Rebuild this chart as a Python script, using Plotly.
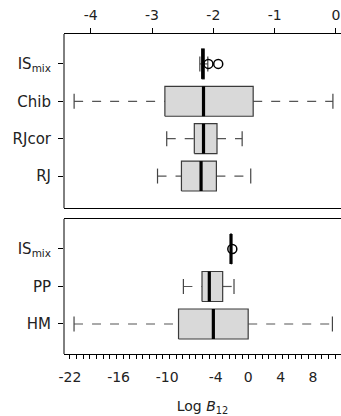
import plotly.graph_objects as go

# Upper panel: log Bayes factor estimates (scale -4 .. 0)
top_labels = ["IS<sub>mix</sub>", "Chib", "RJcor", "RJ"]
top_lower = [-2.22, -4.27, -2.76, -2.91]
top_q1 = [-2.19, -2.79, -2.31, -2.52]
top_median = [-2.17, -2.16, -2.16, -2.20]
top_q3 = [-2.15, -1.35, -1.94, -1.95]
top_upper = [-2.09, -0.05, -1.53, -1.39]
top_outliers = [[-2.08, -1.92], [], [], []]

# Lower panel: log Bayes factor estimates (scale -22 .. 8)
bot_labels = ["IS<sub>mix</sub>", "PP", "HM"]
bot_lower = [-2.15, -8.0, -21.5]
bot_q1 = [-2.14, -5.7, -8.6]
bot_median = [-2.12, -4.8, -4.3]
bot_q3 = [-2.10, -3.15, 0.0]
bot_upper = [-2.09, -1.75, 10.4]
bot_outliers = [[-1.96], [], []]

top_ticks = [-4, -3, -2, -1, 0]
bot_ticks = [-22, -16, -10, -4, 0, 4, 8]

FONT = "DejaVu Sans"
BOX_HALF = 0.4
CAP_HALF = 0.2

fig = go.Figure()


def add_boxes(labels, lower, q1, med, q3, upper, outliers, xa, ya):
    n = len(labels)
    pos = [n - 1 - i for i in range(n)]
    # whiskers (dashed) and caps
    wx, wy, cx, cy = [], [], [], []
    for p, lo, a, b, hi in zip(pos, lower, q1, q3, upper):
        wx += [lo, a, None, b, hi, None]
        wy += [p, p, None, p, p, None]
        cx += [lo, lo, None, hi, hi, None]
        cy += [p - CAP_HALF, p + CAP_HALF, None, p - CAP_HALF, p + CAP_HALF, None]
    fig.add_trace(go.Scatter(x=wx, y=wy, mode="lines", xaxis=xa, yaxis=ya,
                             line=dict(color="#555555", width=1.2, dash="9px,9px"),
                             hoverinfo="skip", showlegend=False))
    fig.add_trace(go.Scatter(x=cx, y=cy, mode="lines", xaxis=xa, yaxis=ya,
                             line=dict(color="#444444", width=1.2),
                             hoverinfo="skip", showlegend=False))
    # boxes
    for p, a, b in zip(pos, q1, q3):
        fig.add_trace(go.Scatter(
            x=[a, b, b, a, a],
            y=[p - BOX_HALF, p - BOX_HALF, p + BOX_HALF, p + BOX_HALF, p - BOX_HALF],
            mode="lines", fill="toself", fillcolor="#d9d9d9",
            line=dict(color="#3a3a3a", width=1.2), xaxis=xa, yaxis=ya,
            hoverinfo="skip", showlegend=False))
    # medians
    mx, my = [], []
    for p, m in zip(pos, med):
        mx += [m, m, None]
        my += [p - BOX_HALF, p + BOX_HALF, None]
    fig.add_trace(go.Scatter(x=mx, y=my, mode="lines", xaxis=xa, yaxis=ya,
                             line=dict(color="black", width=3.2),
                             hoverinfo="skip", showlegend=False))
    # outliers
    ox, oy = [], []
    for p, outs in zip(pos, outliers):
        ox += outs
        oy += [p] * len(outs)
    fig.add_trace(go.Scatter(x=ox, y=oy, mode="markers", xaxis=xa, yaxis=ya,
                             marker=dict(symbol="circle-open", size=9,
                                         color="black", line=dict(width=1.5)),
                             hoverinfo="skip", showlegend=False))
    return pos


top_pos = add_boxes(top_labels, top_lower, top_q1, top_median, top_q3,
                    top_upper, top_outliers, "x", "y")
bot_pos = add_boxes(bot_labels, bot_lower, bot_q1, bot_median, bot_q3,
                    bot_upper, bot_outliers, "x2", "y2")

tick_font = dict(family=FONT, size=14, color="#222222")
lab_font = dict(family=FONT, size=15, color="#222222")

# left frame edge of each panel (open on the right)
for xr, yr in (("x domain", "y domain"), ("x2 domain", "y2 domain")):
    fig.add_shape(type="line", xref=xr, yref=yr, x0=0, x1=0, y0=0, y1=1,
                  line=dict(color="black", width=1), layer="above")

fig.update_layout(
    width=341, height=416,
    margin=dict(l=64, r=0, t=34, b=62),
    plot_bgcolor="white", paper_bgcolor="white",
    xaxis=dict(domain=[0, 1], anchor="y", side="top", range=[-4.435, 0.082],
               tickvals=top_ticks, ticktext=[str(t) for t in top_ticks],
               ticks="outside", ticklen=5, tickcolor="black", tickwidth=1,
               showline=True, linecolor="black", linewidth=1, mirror=True,
               showgrid=False, zeroline=False, tickfont=tick_font,
               ticklabelstandoff=2),
    yaxis=dict(domain=[0.456, 1], anchor="x", range=[-0.857, 3.80],
               tickvals=top_pos, ticktext=top_labels,
               ticks="outside", ticklen=5, tickcolor="black",
               showline=False,
               showgrid=False, zeroline=False, tickfont=lab_font,
               ticklabelstandoff=4),
    xaxis2=dict(domain=[0, 1], anchor="y2", side="bottom", range=[-22.74, 11.46],
                tickvals=bot_ticks, ticktext=[str(t) for t in bot_ticks],
                ticks="outside", ticklen=4, tickcolor="rgba(0,0,0,0)",
                minor=dict(ticks="outside", ticklen=4, tick0=-22, dtick=0.818,
                           tickcolor="black", tickwidth=1, showgrid=False),
                showline=True, linecolor="black", linewidth=1, mirror=True,
                showgrid=False, zeroline=False, tickfont=tick_font,
                ticklabelstandoff=6,
                title=dict(text="Log <i>B</i><sub>12</sub>",
                           font=dict(family=FONT, size=14, color="#222222"),
                           standoff=20)),
    yaxis2=dict(domain=[0, 0.422], anchor="x2", range=[-0.8, 2.8],
                tickvals=bot_pos, ticktext=bot_labels,
                ticks="outside", ticklen=5, tickcolor="black",
                showline=False,
                showgrid=False, zeroline=False, tickfont=lab_font,
                ticklabelstandoff=4),
)

fig.write_html("out.html", config={"displayModeBar": False})
